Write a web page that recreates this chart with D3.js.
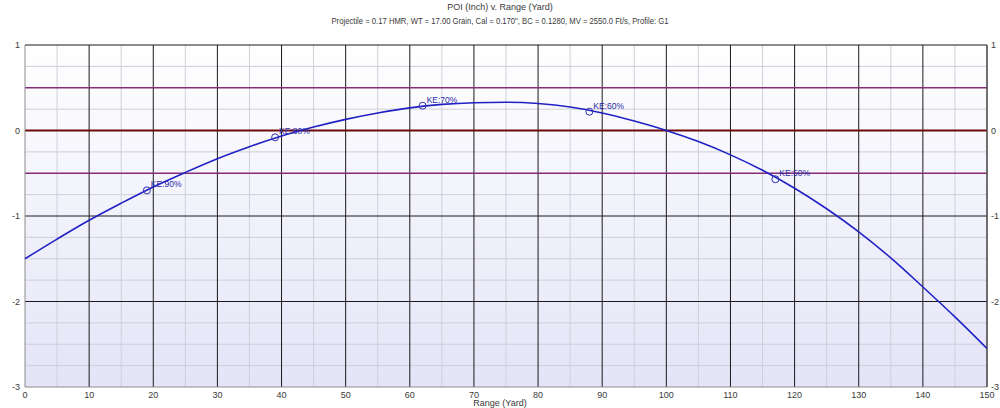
<!DOCTYPE html>
<html>
<head>
<meta charset="utf-8">
<script src="https://cdn.jsdelivr.net/npm/d3@7"></script>
<style>
html,body{margin:0;padding:0;background:#fff;}
svg{display:block;font-family:"Liberation Sans",Arial,sans-serif;}
</style>
</head>
<body>
<svg id="chart" width="1000" height="408"></svg>
<script>
const title = "POI (Inch) v. Range (Yard)";
const subtitle = "Projectile = 0.17 HMR, WT = 17.00 Grain, Cal = 0.170\", BC = 0.1280, MV = 2550.0 Ft/s, Profile: G1";
const xLabel = "Range (Yard)";
const ranges = [0,5,10,15,20,25,30,35,40,45,50,55,60,65,70,75,80,85,90,95,100,105,110,115,120,125,130,135,140,145,150];
const poi = [-1.50,-1.27,-1.05,-0.85,-0.66,-0.49,-0.33,-0.19,-0.065,0.04,0.13,0.205,0.265,0.305,0.325,0.33,0.315,0.275,0.205,0.11,0.00,-0.13,-0.285,-0.465,-0.675,-0.915,-1.185,-1.49,-1.83,-2.18,-2.55];
const keRanges = [19,39,62,88,117];
const keValues = [-0.70,-0.08,0.29,0.22,-0.57];
const keLabels = ["KE:90%","KE:80%","KE:70%","KE:60%","KE:50%"];
const xTicks = [0,10,20,30,40,50,60,70,80,90,100,110,120,130,140,150];
const yTicks = [1,0,-1,-2,-3];
const refLines = [0.5,-0.5];

const svg = d3.select("#chart");
const L=25,R=987,T=45,B=387;
const x = d3.scaleLinear().domain([0,150]).range([L,R]);
const y = d3.scaleLinear().domain([-3,1]).range([B,T]);

const defs = svg.append("defs");
const g = defs.append("linearGradient").attr("id","bg").attr("x1",0).attr("y1",0).attr("x2",0).attr("y2",1);
g.append("stop").attr("offset","0%").attr("stop-color","#ffffff");
g.append("stop").attr("offset","100%").attr("stop-color","#e4e4f8");
svg.append("rect").attr("x",L).attr("y",T).attr("width",R-L).attr("height",B-T).attr("fill","url(#bg)");

// minor grid
const minorX = d3.range(5,150,10);
svg.append("g").selectAll("line").data(minorX).join("line")
  .attr("x1",d=>x(d)).attr("x2",d=>x(d)).attr("y1",T).attr("y2",B)
  .attr("stroke","#cfcfda").attr("stroke-width",1);
const minorY = d3.range(-2.75,1,0.25).filter(v=>Math.abs(v-Math.round(v))>0.01 && Math.abs(Math.abs(v)-0.5)>0.01);
svg.append("g").selectAll("line").data(minorY).join("line")
  .attr("x1",L).attr("x2",R).attr("y1",d=>y(d)).attr("y2",d=>y(d))
  .attr("stroke","#cfcfda").attr("stroke-width",1);
// major grid
svg.append("g").selectAll("line").data(xTicks.filter(d=>d>0)).join("line")
  .attr("x1",d=>x(d)).attr("x2",d=>x(d)).attr("y1",T).attr("y2",B)
  .attr("stroke","#1a1a1a").attr("stroke-width",1);
svg.append("g").selectAll("line").data([1,-1,-2]).join("line")
  .attr("x1",L).attr("x2",R).attr("y1",d=>y(d)).attr("y2",d=>y(d))
  .attr("stroke","#1a1a1a").attr("stroke-width",1);
// reference lines
svg.append("g").selectAll("line").data(refLines).join("line")
  .attr("x1",L).attr("x2",R).attr("y1",d=>y(d)).attr("y2",d=>y(d))
  .attr("stroke","#862c76").attr("stroke-width",1.5);
svg.append("line").attr("x1",L).attr("x2",R).attr("y1",y(0)).attr("y2",y(0))
  .attr("stroke","#6e0a0a").attr("stroke-width",1.8);

// axes lines
svg.append("line").attr("x1",L).attr("x2",L).attr("y1",T).attr("y2",B).attr("stroke","#8c8c8c");
svg.append("line").attr("x1",L).attr("x2",R).attr("y1",B).attr("y2",B).attr("stroke","#8c8c8c");
svg.append("line").attr("x1",R).attr("x2",R).attr("y1",T).attr("y2",B).attr("stroke","#555");

// curve
const line = d3.line().x((d,i)=>x(ranges[i])).y(d=>y(d)).curve(d3.curveMonotoneX);
svg.append("path").datum(poi).attr("d",line).attr("fill","none").attr("stroke","#2121c4").attr("stroke-width",1.6);

// KE markers
const ke = svg.append("g");
ke.selectAll("circle").data(keRanges).join("circle")
  .attr("cx",d=>x(d)).attr("cy",(d,i)=>y(keValues[i])).attr("r",3.5)
  .attr("fill","none").attr("stroke","#3030b0").attr("stroke-width",1);
ke.selectAll("text").data(keLabels).join("text")
  .attr("x",(d,i)=>x(keRanges[i])+4).attr("y",(d,i)=>y(keValues[i])-3)
  .attr("font-size",8.5).attr("fill","#2a2aa8").text(d=>d);

// axes labels
const tc="#3a3a3a";
svg.append("g").selectAll("text").data(yTicks).join("text")
  .attr("x",L-5).attr("y",d=>y(d)).attr("dy","0.35em").attr("text-anchor","end")
  .attr("font-size",9).attr("fill",tc).text(d=>d);
svg.append("g").selectAll("text").data(yTicks).join("text")
  .attr("x",R+4).attr("y",d=>y(d)).attr("dy","0.35em").attr("text-anchor","start")
  .attr("font-size",9).attr("fill",tc).text(d=>d);
svg.append("g").selectAll("text").data(xTicks).join("text")
  .attr("x",d=>x(d)).attr("y",B+11).attr("text-anchor","middle")
  .attr("font-size",9).attr("fill",tc).text(d=>d);
svg.append("text").attr("x",500).attr("y",406).attr("text-anchor","middle").attr("font-size",9).attr("fill",tc).text(xLabel);
svg.append("text").attr("x",500).attr("y",10).attr("text-anchor","middle").attr("font-size",9).attr("fill",tc).text(title);
svg.append("text").attr("x",500).attr("y",24).attr("text-anchor","middle").attr("font-size",9)
  .attr("textLength",337).attr("lengthAdjust","spacingAndGlyphs").attr("fill",tc).text(subtitle);
</script>
</body>
</html>
